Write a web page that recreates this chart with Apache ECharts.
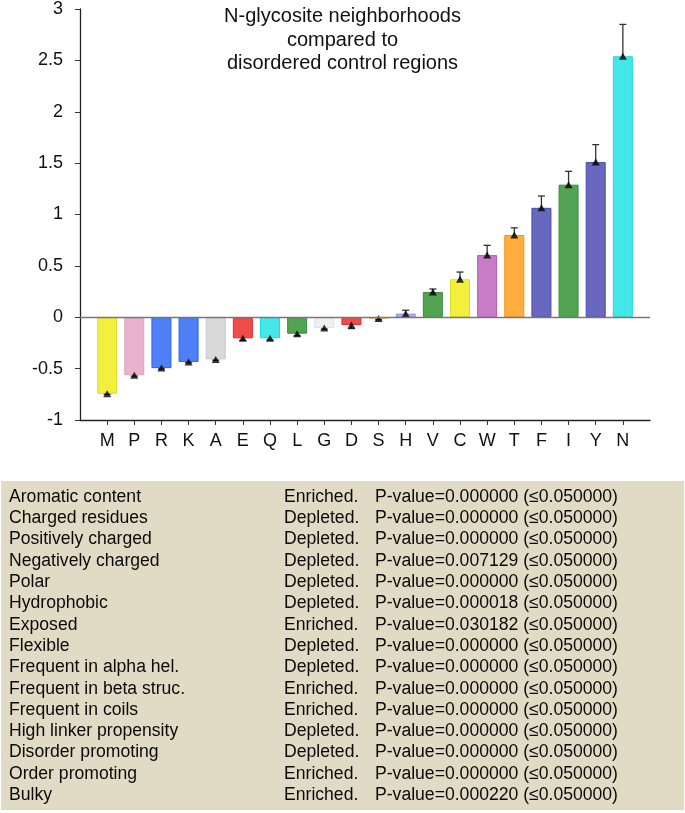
<!DOCTYPE html>
<html>
<head>
<meta charset="utf-8">
<script src="https://cdn.jsdelivr.net/npm/echarts@6/dist/echarts.min.js"></script>
<style>
html,body{margin:0;padding:0;background:#fff;}
#chart{width:685px;height:813px;}
</style>
</head>
<body>
<div id="chart"></div>
<script>
// ---- data ----
var categories = ['M','P','R','K','A','E','Q','L','G','D','S','H','V','C','W','T','F','I','Y','N'];
var values = [-0.745,-0.565,-0.495,-0.435,-0.41,-0.205,-0.205,-0.16,-0.105,-0.075,-0.012,0.035,0.245,0.37,0.605,0.80,1.065,1.29,1.51,2.54];
var errors = [0.005,0.008,0.008,0.008,0.008,0.02,0.015,0.02,0.01,0.035,0.012,0.033,0.03,0.07,0.095,0.07,0.115,0.13,0.17,0.31];
var barColors = ['#f2f03c','#e8b4cc','#5080f8','#5080f8','#d9d9d9','#f04a4a','#44e8e8','#52a352','#f0f0f0','#f04a4a','#ffa838','#b0b0ee','#52a352','#f2f03c','#c87cc8','#ffad3c','#6868c0','#52a352','#6868c0','#44e8e8'];
var barBorders = ['#e0dc28','#d8a0bc','#2a60f0','#2a60f0','#c8c8c8','#d83030','#20d8e0','#3a8c3a','#e0e0e0','#d83030','#f09020','#9090e0','#3a8c3a','#e0dc28','#b060b0','#f09020','#4848b0','#3a8c3a','#4848b0','#20d8e0'];
var yTicks = [-1,-0.5,0,0.5,1,1.5,2,2.5,3];
var titleLines = ['N-glycosite neighborhoods','compared to','disordered control regions'];

var propNames = ['Aromatic content','Charged residues','Positively charged','Negatively charged','Polar','Hydrophobic','Exposed','Flexible','Frequent in alpha hel.','Frequent in beta struc.','Frequent in coils','High linker propensity','Disorder promoting','Order promoting','Bulky'];
var propStatus = ['Enriched.','Depleted.','Depleted.','Depleted.','Depleted.','Depleted.','Enriched.','Depleted.','Depleted.','Enriched.','Enriched.','Depleted.','Depleted.','Enriched.','Enriched.'];
var pValues = ['0.000000','0.000000','0.000000','0.007129','0.000000','0.000018','0.030182','0.000000','0.000000','0.000000','0.000000','0.000000','0.000000','0.000000','0.000220'];
var threshold = '0.050000';

// ---- build ----
var FONT = '"Liberation Sans", Arial, Helvetica, sans-serif';
var axisCats = [''].concat(categories).concat(['']);
var barData = [{value: null}];
categories.forEach(function(c, i){
  barData.push({value: values[i], itemStyle: {color: barColors[i], borderColor: barBorders[i], borderWidth: 1}});
});
barData.push({value: null});
var errData = categories.map(function(c, i){ return [i + 1, values[i], errors[i]]; });
var markData = categories.map(function(c, i){ return [i + 1, values[i]]; });

var graphics = [{
  type: 'rect', left: 1, top: 481, shape: {width: 683, height: 329},
  style: {fill: '#e1dbc6'}, z: 0
}];
propNames.forEach(function(n, i){
  var y = 497 + i * 21.3;
  var st = {fontSize: 17.6, fontFamily: FONT, fill: '#0a0a0a', textVerticalAlign: 'middle', verticalAlign: 'middle'};
  graphics.push({type: 'text', x: 9, y: y, style: Object.assign({text: n}, st), z: 1});
  graphics.push({type: 'text', x: 284, y: y, style: Object.assign({text: propStatus[i]}, st), z: 1});
  graphics.push({type: 'text', x: 375, y: y, style: Object.assign({text: 'P-value=' + pValues[i] + ' (\u2264' + threshold + ')'}, st), z: 1});
});

var chart = echarts.init(document.getElementById('chart'), null, {renderer: 'canvas'});
chart.setOption({
  animation: false,
  backgroundColor: '#ffffff',
  title: {
    text: titleLines.join('\n'),
    left: 'center', top: 0,
    textStyle: {fontSize: 20, fontWeight: 'normal', color: '#111', fontFamily: FONT, lineHeight: 23.5}
  },
  grid: {left: 80, width: 570, top: 8.6, bottom: 393, containLabel: false},
  xAxis: {
    type: 'category', data: axisCats, boundaryGap: false,
    axisLine: {onZero: false, lineStyle: {color: '#222', width: 1.3}},
    axisTick: {length: 5, lineStyle: {color: '#333'}, interval: function(i, v){ return v !== ''; }},
    axisLabel: {interval: 0, margin: 12, fontSize: 18, color: '#111', fontFamily: FONT},
    splitLine: {show: false}
  },
  yAxis: {
    type: 'value', min: yTicks[0], max: yTicks[yTicks.length - 1], interval: 0.5,
    axisLine: {show: true, lineStyle: {color: '#222', width: 1.3}},
    axisTick: {show: true, length: 5, lineStyle: {color: '#333'}},
    axisLabel: {margin: 17, fontSize: 18, color: '#111', fontFamily: FONT},
    splitLine: {show: false}
  },
  graphic: graphics,
  series: [
    {
      type: 'line', data: [], z: 1, silent: true,
      markLine: {symbol: 'none', silent: true, label: {show: false},
        lineStyle: {color: '#777', width: 1.3, type: 'solid'},
        data: [{yAxis: 0}]}
    },
    {
      type: 'bar', data: barData, barWidth: 20, z: 2
    },
    {
      type: 'custom', z: 3,
      renderItem: function(params, api){
        var x = api.value(0), v = api.value(1), e = api.value(2);
        var end = v >= 0 ? v + e : v - e;
        var p0 = api.coord([x, v]);
        var p1 = api.coord([x, end]);
        var st = {stroke: '#333', lineWidth: 1.3};
        return {type: 'group', children: [
          {type: 'line', shape: {x1: p0[0], y1: p0[1], x2: p1[0], y2: p1[1]}, style: st},
          {type: 'line', shape: {x1: p1[0] - 3.5, y1: p1[1], x2: p1[0] + 3.5, y2: p1[1]}, style: st}
        ]};
      },
      encode: {x: 0, y: 1},
      data: errData
    },
    {
      type: 'scatter', data: markData, symbol: 'triangle', symbolSize: [8, 7],
      itemStyle: {color: '#000'}, z: 4
    }
  ]
});
</script>
</body>
</html>
